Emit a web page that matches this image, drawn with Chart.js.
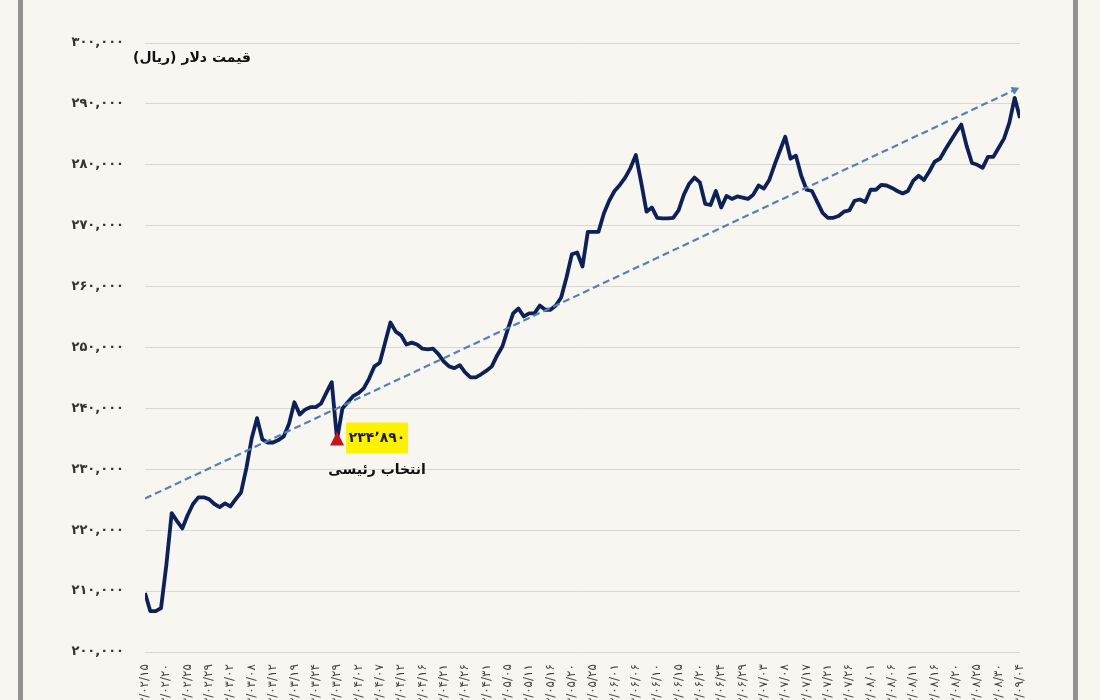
<!DOCTYPE html>
<html>
<head>
<meta charset="utf-8">
<script src="https://cdn.jsdelivr.net/npm/chart.js@4.4.1/dist/chart.umd.min.js"></script>
<style>
  body { margin: 0; background: #f8f6f1; overflow: hidden; width: 1100px; height: 700px; }
  .bar { position: absolute; top: 0; width: 5px; height: 700px; background: #929292; }
  #wrap { position: absolute; left: 0; top: 0; width: 1100px; height: 740px; }
</style>
</head>
<body>
<div class="bar" style="left:18px"></div>
<div class="bar" style="left:1073px"></div>
<div id="wrap"><canvas id="myChart" width="1100" height="740"></canvas></div>
<script>
// برچسب‌های محور افقی (هر ۴ روز معاملاتی)
const dateLabels = [
  '۱۴۰۳/۰۲/۱۵', '۱۴۰۳/۰۲/۲۰', '۱۴۰۳/۰۲/۲۵', '۱۴۰۳/۰۲/۲۹', '۱۴۰۳/۰۳/۰۲', '۱۴۰۳/۰۳/۰۸',
  '۱۴۰۳/۰۳/۱۲', '۱۴۰۳/۰۳/۱۹', '۱۴۰۳/۰۳/۲۴', '۱۴۰۳/۰۳/۲۹', '۱۴۰۳/۰۴/۰۲', '۱۴۰۳/۰۴/۰۷',
  '۱۴۰۳/۰۴/۱۲', '۱۴۰۳/۰۴/۱۶', '۱۴۰۳/۰۴/۲۱', '۱۴۰۳/۰۴/۲۶', '۱۴۰۳/۰۴/۳۱', '۱۴۰۳/۰۵/۰۵',
  '۱۴۰۳/۰۵/۱۱', '۱۴۰۳/۰۵/۱۶', '۱۴۰۳/۰۵/۲۰', '۱۴۰۳/۰۵/۲۵', '۱۴۰۳/۰۶/۰۱', '۱۴۰۳/۰۶/۰۶',
  '۱۴۰۳/۰۶/۱۰', '۱۴۰۳/۰۶/۱۵', '۱۴۰۳/۰۶/۲۰', '۱۴۰۳/۰۶/۲۴', '۱۴۰۳/۰۶/۲۹', '۱۴۰۳/۰۷/۰۳',
  '۱۴۰۳/۰۷/۰۸', '۱۴۰۳/۰۷/۱۷', '۱۴۰۳/۰۷/۲۱', '۱۴۰۳/۰۷/۲۶', '۱۴۰۳/۰۸/۰۱', '۱۴۰۳/۰۸/۰۶',
  '۱۴۰۳/۰۸/۱۱', '۱۴۰۳/۰۸/۱۶', '۱۴۰۳/۰۸/۲۰', '۱۴۰۳/۰۸/۲۵', '۱۴۰۳/۰۸/۳۰', '۱۴۰۳/۰۹/۰۴'
];
const daysPerLabel = 4;

// قیمت دلار (ریال) روزانه
const prices = [
  209700, 206700, 206700, 207200, 214300, 222800, 221500, 220300, 222500, 224300,
  225400, 225400, 225100, 224300, 223800, 224400, 223900, 225100, 226200, 230200,
  235100, 238400, 234900, 234400, 234400, 234800, 235400, 237500, 241000, 239000,
  239800, 240200, 240200, 240800, 242600, 244300, 234890, 240000, 241000, 242000,
  242500, 243300, 244900, 246900, 247500, 250800, 254100, 252600, 252000, 250500,
  250800, 250500, 249800, 249700, 249800, 248900, 247700, 246900, 246600, 247100,
  245900, 245100, 245100, 245600, 246200, 246900, 248700, 250200, 253000, 255600,
  256400, 255100, 255600, 255600, 256900, 256200, 256200, 256900, 258200, 261500,
  265300, 265600, 263300, 269000, 269000, 269000, 272000, 274100, 275700, 276700,
  277900, 279500, 281600, 277100, 272300, 273000, 271300, 271200, 271200, 271300,
  272500, 275100, 276900, 277900, 277100, 273600, 273400, 275700, 273000, 274900,
  274400, 274800, 274600, 274400, 275100, 276600, 276100, 277500, 280000, 282300,
  284600, 281000, 281500, 278200, 275900, 275700, 273900, 272100, 271300, 271300,
  271600, 272300, 272500, 274100, 274300, 273900, 275900, 275900, 276700, 276600,
  276200, 275700, 275300, 275700, 277400, 278200, 277500, 278900, 280500, 281000,
  282500, 283900, 285300, 286600, 283100, 280300, 280000, 279500, 281300, 281300,
  282800, 284300, 286900, 291000, 287700
];

// خط روند: [اندیس, قیمت]
const trendIndex = [0, 163];
const trendValue = [225200, 292300];

const electionIndex = 36;
const electionText = 'انتخاب رئیسی';
const yTitle = 'قیمت دلار (ریال)';

const faDigits = '۰۱۲۳۴۵۶۷۸۹';
function toFa(s) {
  return String(s).replace(/\d/g, d => faDigits[d]);
}

const labelsPlugin = {
  id: 'labels',
  afterDraw(chart) {
    const { ctx, scales: { x, y } } = chart;
    ctx.save();
    // عنوان محور عمودی
    ctx.direction = 'rtl';
    ctx.font = 'bold 14px "DejaVu Sans"';
    ctx.fillStyle = '#111';
    ctx.textAlign = 'center';
    ctx.textBaseline = 'middle';
    ctx.fillText(yTitle, 192, 58);

    // برچسب انتخابات
    const px = x.getPixelForValue(electionIndex);
    const py = y.getPixelForValue(prices[electionIndex]);
    ctx.fillStyle = '#fff200';
    ctx.fillRect(px + 9, py - 17, 62, 31);
    ctx.direction = 'ltr';
    ctx.fillStyle = '#1c1c3c';
    ctx.font = 'bold 14px "DejaVu Sans"';
    ctx.fillText(toFa('234٬890'), px + 40, py - 1);
    ctx.direction = 'rtl';
    ctx.fillStyle = '#111';
    ctx.font = 'bold 14px "DejaVu Sans"';
    ctx.fillText(electionText, px + 40, py + 31);

    // مثلث قرمز
    ctx.fillStyle = '#c4161c';
    ctx.beginPath();
    ctx.moveTo(px, py - 8);
    ctx.lineTo(px - 7, py + 6);
    ctx.lineTo(px + 7, py + 6);
    ctx.closePath();
    ctx.fill();
    ctx.restore();
  }
};

const ctx = document.getElementById('myChart').getContext('2d');
const myChart = new Chart(ctx, {
  type: 'line',
  data: {
    datasets: [{
      label: 'روند',
      data: trendIndex.map((v, i) => ({ x: v, y: trendValue[i] })),
      borderColor: '#5480b8',
      borderWidth: 2.2,
      borderDash: [7, 4],
      pointStyle: 'triangle',
      pointRadius: [0, 5],
      pointRotation: 65,
      pointBackgroundColor: '#5480b8',
      pointBorderWidth: 0
    }, {
      label: 'قیمت دلار',
      data: prices.map((v, i) => ({ x: i, y: v })),
      borderColor: '#0d2157',
      borderWidth: 3.8,
      borderJoinStyle: 'round',
      tension: 0,
      pointRadius: 0
    }]
  },
  options: {
    responsive: false,
    animation: false,
    devicePixelRatio: 1,
    layout: { padding: { left: 0, right: 80, top: 43, bottom: 0 } },
    plugins: { legend: { display: false }, tooltip: { enabled: false } },
    scales: {
      x: {
        type: 'linear',
        min: 0,
        max: (dateLabels.length - 1) * daysPerLabel,
        grid: { display: false },
        border: { display: false },
        afterFit: (scale) => { scale.height = 88; },
        ticks: {
          stepSize: daysPerLabel,
          autoSkip: false,
          minRotation: 90,
          maxRotation: 90,
          padding: 4,
          color: '#444',
          font: { family: 'DejaVu Sans', size: 12 },
          callback: (v) => dateLabels[v / daysPerLabel]
        }
      },
      y: {
        min: 200000,
        max: 300000,
        grid: { color: '#d9d7d2', lineWidth: 1, drawTicks: false },
        border: { display: false },
        afterFit: (scale) => { scale.width = 145; },
        ticks: {
          stepSize: 10000,
          padding: 21,
          color: '#333',
          font: { family: 'DejaVu Sans', size: 13, weight: 'bold' },
          callback: (v) => toFa(v.toLocaleString('en-US'))
        }
      }
    }
  },
  plugins: [labelsPlugin]
});
</script>
</body>
</html>
